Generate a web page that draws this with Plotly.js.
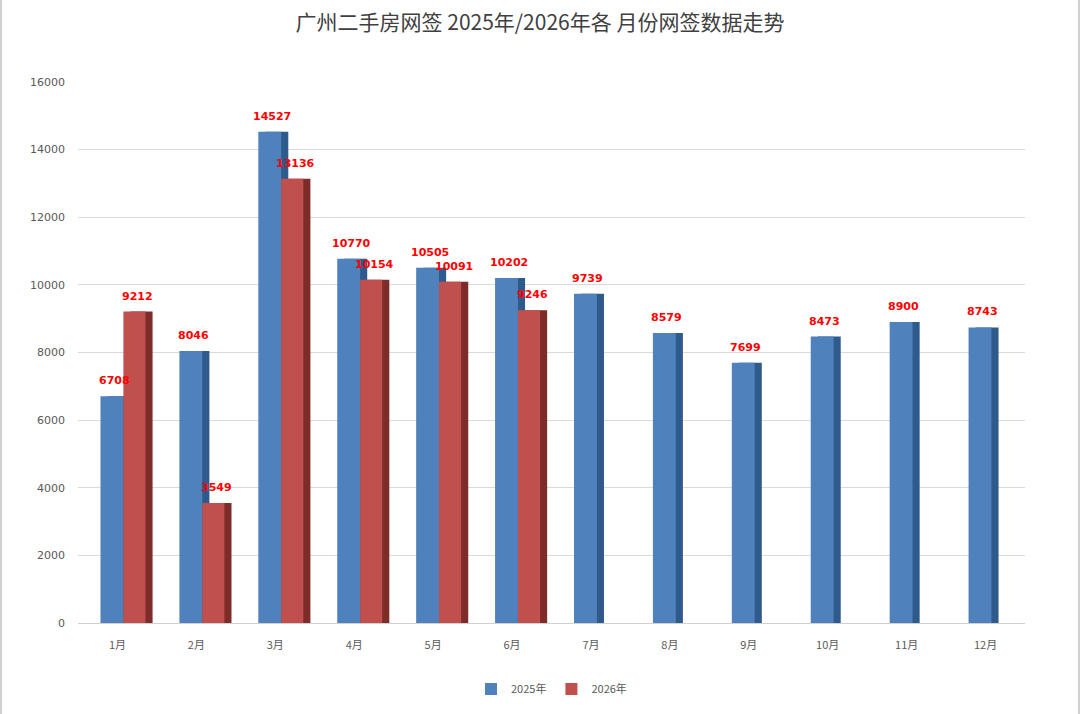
<!DOCTYPE html>
<html>
<head>
<meta charset="utf-8">
<script src="https://cdn.plot.ly/plotly-3.0.1.min.js"></script>
<style>
  html, body { margin: 0; padding: 0; background: #fff; }
  #chart { width: 1080px; height: 714px; box-sizing: border-box; border-left: 2px solid #d0d0d0; border-right: 2px solid #d0d0d0; overflow: hidden; }
</style>
</head>
<body>
<div id="chart"></div>
<script>
// months on the x axis
let months = ['1月', '2月', '3月', '4月', '5月', '6月', '7月', '8月', '9月', '10月', '11月', '12月'];
// signed contracts per month
let sales2025 = [6708, 8046, 14527, 10770, 10505, 10202, 9739, 8579, 7699, 8473, 8900, 8743];
let sales2026 = [9212, 3549, 13136, 10154, 10091, 9246];
let yTicks = [0, 2000, 4000, 6000, 8000, 10000, 12000, 14000, 16000];

let x25 = months.map((m, i) => i);
let x26 = sales2026.map((v, i) => i);

let font = 'Noto Sans CJK SC, Microsoft YaHei, sans-serif';

// darker "side" faces to fake the 3D look, drawn behind the front faces
let blueSide = {
    x: x25, y: sales2025, type: 'bar',
    offset: -0.125, width: 0.29,
    marker: {color: '#2f5a8c'},
    showlegend: false, hoverinfo: 'skip'
};
let redSide = {
    x: x26, y: sales2026, type: 'bar',
    offset: 0.165, width: 0.28,
    marker: {color: '#7e2c2a'},
    showlegend: false, hoverinfo: 'skip'
};
let blueTrace = {
    x: x25, y: sales2025, type: 'bar', name: '2025年',
    offset: -0.215, width: 0.29,
    marker: {color: '#4f81bd'}
};
let redTrace = {
    x: x26, y: sales2026, type: 'bar', name: '2026年',
    offset: 0.075, width: 0.28,
    marker: {color: '#c0504d'}
};

// value labels above the bars
let labelFont = {color: '#ff0000', size: 11, family: 'DejaVu Sans, sans-serif', weight: 'bold'};
let labels = [];
sales2025.forEach((v, i) => {
    labels.push({x: i - 0.04, y: v, text: String(v), showarrow: false,
        xanchor: 'center', yanchor: 'bottom', yshift: 7, font: labelFont});
});
sales2026.forEach((v, i) => {
    labels.push({x: i + 0.26, y: v, text: String(v), showarrow: false,
        xanchor: 'center', yanchor: 'bottom', yshift: 7, font: labelFont});
});

let layout = {
    width: 1076, height: 714,
    paper_bgcolor: '#ffffff', plot_bgcolor: '#ffffff',
    font: {family: font, color: '#595959', size: 11},
    title: {
        text: '广州二手房网签 2025年/2026年各 月份网签数据走势',
        font: {family: font, size: 21, color: '#404040'},
        x: 0.5, xanchor: 'center', y: 0.968, yanchor: 'middle'
    },
    barmode: 'overlay',
    margin: {l: 76, r: 53, t: 82, b: 90},
    annotations: labels,
    xaxis: {
        range: [-0.5, 11.5],
        tickvals: x25, ticktext: months,
        showgrid: false, zeroline: false, showline: false,
        ticks: '', ticklabelstandoff: 14,
        tickfont: {size: 11, color: '#595959', family: font}
    },
    yaxis: {
        range: [0, 16000],
        tickvals: yTicks, ticktext: yTicks.map(String),
        showgrid: true, gridcolor: '#dadada', gridwidth: 1,
        zeroline: true, zerolinecolor: '#d0d0d0',
        ticks: '', ticklabelstandoff: 12,
        tickfont: {size: 11, color: '#595959', family: 'DejaVu Sans, sans-serif'}
    },
    legend: {
        orientation: 'h', x: 0.5, xanchor: 'center', y: -0.12, yanchor: 'middle',
        font: {size: 11, color: '#595959', family: font},
        itemwidth: 30, traceorder: 'normal'
    }
};

Plotly.newPlot('chart', [blueSide, redSide, blueTrace, redTrace], layout, {displayModeBar: false, staticPlot: true});
</script>
</body>
</html>
